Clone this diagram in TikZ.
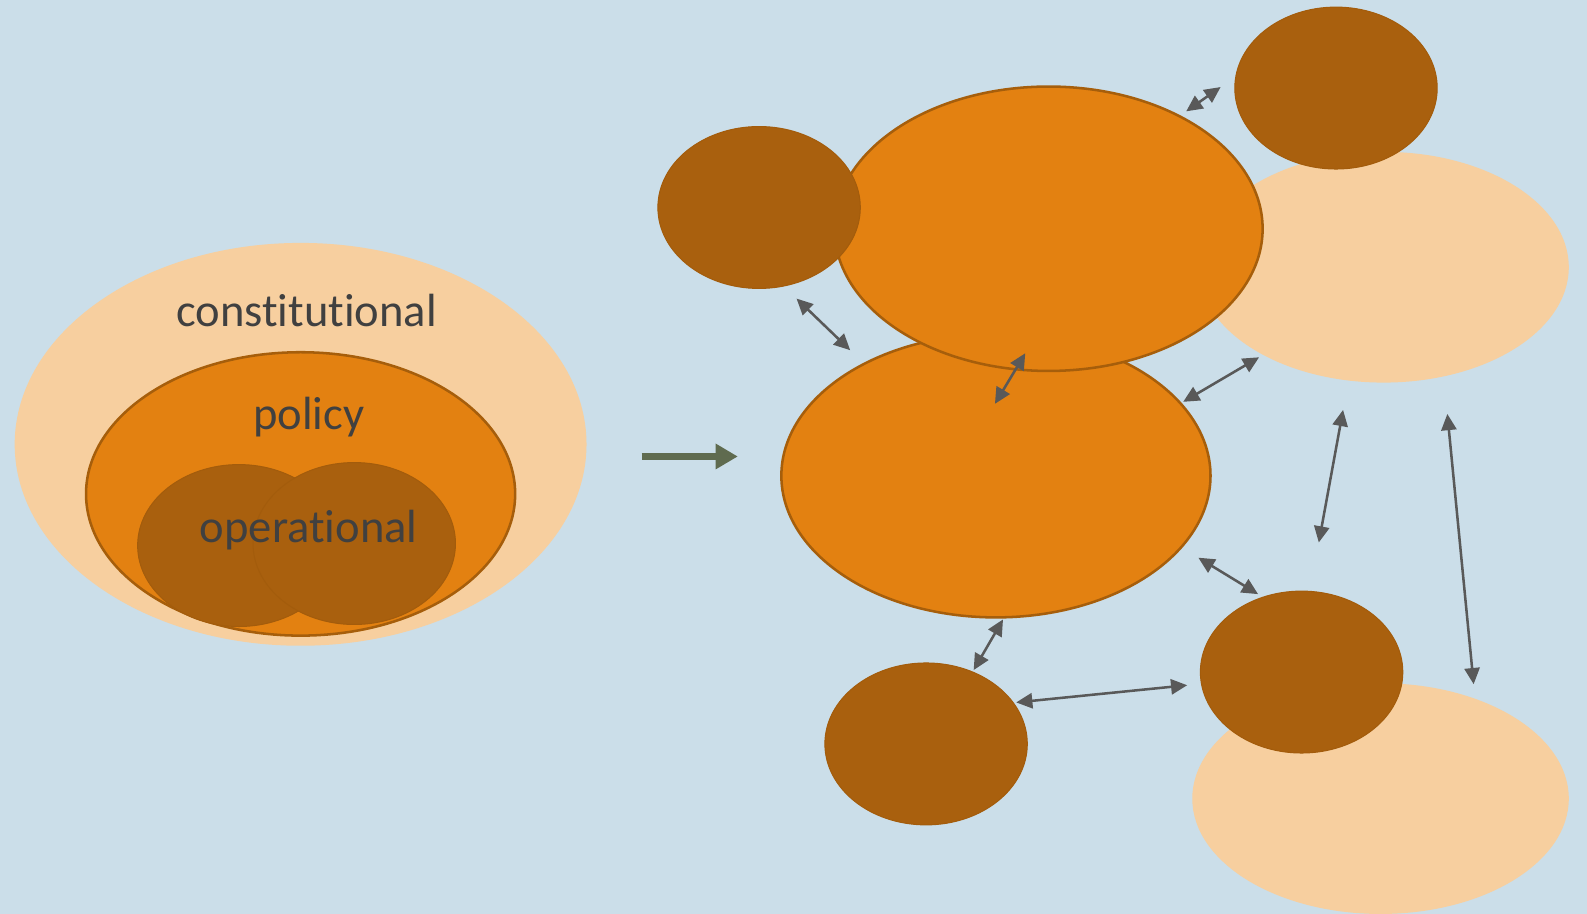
\documentclass[tikz,border=0pt]{standalone}
\usepackage{fontspec}
\setmainfont[Ligatures=NoCommon]{Carlito}
\usetikzlibrary{shapes.geometric,arrows.meta}
\definecolor{bgblue}{HTML}{CBDEE9}
\definecolor{peach}{HTML}{F7CF9F}
\definecolor{orangef}{HTML}{E38111}
\definecolor{orangeb}{HTML}{A65E0B}
\definecolor{brownf}{HTML}{A9600E}
\definecolor{browne}{HTML}{A35C0C}
\definecolor{txtgrey}{HTML}{404040}
\definecolor{arrgrey}{HTML}{595959}
\definecolor{bigarrow}{HTML}{5F6B4F}
\begin{document}
\begin{tikzpicture}[x=1pt,y=-1pt,
  blob/.style={ellipse, inner sep=0pt, outer sep=0pt},
  peachblob/.style={blob, fill=peach},
  orangeblob/.style={blob, fill=orangef, draw=orangeb, line width=2.5pt},
  brownblob/.style={blob, fill=brownf, draw=browne, line width=1pt, minimum width=200pt, minimum height=160pt},
  lbl/.style={text=txtgrey, font=\fontsize{46}{50}\selectfont, anchor=base},
  link/.style={draw=arrgrey, line width=2.5pt, {Triangle[length=16pt,width=15pt]}-{Triangle[length=16pt,width=15pt]}}
]
\fill[bgblue] (0,0) rectangle (1568,903);
\useasboundingbox (0,0) rectangle (1568,903);

% left diagram
\node[peachblob, minimum width=565pt, minimum height=398pt] (const) at (297,439) {};
\node[orangeblob, minimum width=424pt, minimum height=280pt] (pol) at (297,488) {};
\node[brownblob] (opl) at (236,539) {};
\node[brownblob] (opr) at (350,537) {};
\node[lbl] (tconst) at (303,323) {constitutional};
\node[lbl] (tpol) at (305,424) {policy};
\node[lbl] (top) at (305,536) {operational};

% big arrow
\coordinate (ba1) at (634,451);
\coordinate (ba2) at (729,451);
\draw[bigarrow, line width=6pt, -{Triangle[length=22pt,width=24pt]}] (ba1) -- (ba2);

% right diagram
\node[peachblob, minimum width=366pt, minimum height=228pt] (ptr) at (1367,264) {};
\node[brownblob] (btr) at (1320,87) {};
\node[orangeblob, minimum width=424pt, minimum height=280pt] (obot) at (984,470) {};
\node[orangeblob, minimum width=423pt, minimum height=281pt] (otop) at (1036,226) {};
\node[brownblob] (btl) at (750,205) {};
\node[brownblob] (bbot) at (915,735) {};
\node[peachblob, minimum width=372pt, minimum height=228pt] (pbr) at (1364,789) {};
\node[brownblob] (bbr) at (1286,664) {};

% connector end points
\coordinate (a1s) at (1172,110); \coordinate (a1e) at (1206,86);
\coordinate (a2s) at (787,295);  \coordinate (a2e) at (840,346);
\coordinate (a3s) at (1013,349); \coordinate (a3e) at (983,399);
\coordinate (a4s) at (1169,397); \coordinate (a4e) at (1244,353);
\coordinate (a5s) at (1327,405); \coordinate (a5e) at (1303,536);
\coordinate (a6s) at (1430,409); \coordinate (a6e) at (1456,676);
\coordinate (a7s) at (1184,551); \coordinate (a7e) at (1243,587);
\coordinate (a8s) at (991,612);  \coordinate (a8e) at (962,662);
\coordinate (a9s) at (1004,694); \coordinate (a9e) at (1173,677);

\draw[link] (a1s) -- (a1e);
\draw[link] (a2s) -- (a2e);
\draw[link] (a3s) -- (a3e);
\draw[link] (a4s) -- (a4e);
\draw[link] (a5s) -- (a5e);
\draw[link] (a6s) -- (a6e);
\draw[link] (a7s) -- (a7e);
\draw[link] (a8s) -- (a8e);
\draw[link] (a9s) -- (a9e);
\end{tikzpicture}
\end{document}
